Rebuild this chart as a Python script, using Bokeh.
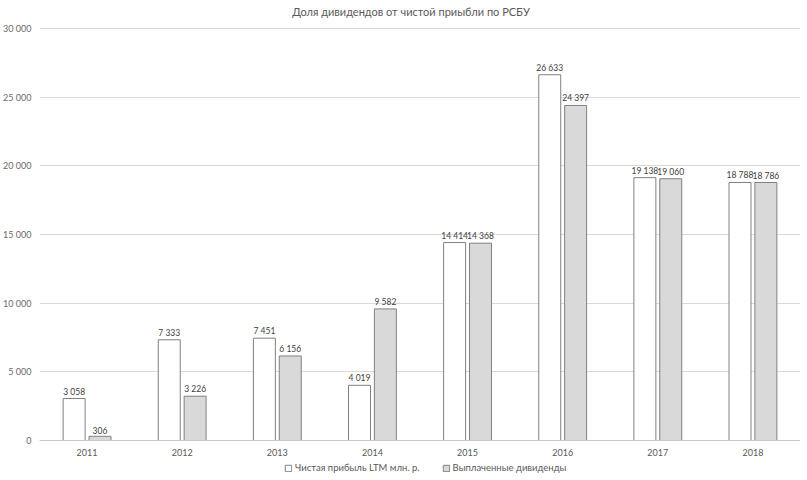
from bokeh.plotting import figure
from bokeh.models import (ColumnDataSource, Range1d, LabelSet, Label, Legend, LegendItem,
                          FixedTicker, Span)
from bokeh.core.properties import value
from bokeh.embed import file_html
from bokeh.resources import INLINE

title = "Доля дивидендов от чистой приыбли по РСБУ"
years = ["2011", "2012", "2013", "2014", "2015", "2016", "2017", "2018"]
net_profit = [3058, 7333, 7451, 4019, 14414, 26633, 19138, 18788]
dividends = [306, 3226, 6156, 9582, 14368, 24397, 19060, 18786]
y_ticks = [0, 5000, 10000, 15000, 20000, 25000, 30000]
legend_labels = ["Чистая прибыль LTM млн. р.", "Выплаченные дивиденды"]

def fmt(v):
    return f"{v:,}".replace(",", " ")

BW = 0.231
OFF = 0.136
centers = [i + 0.5 for i in range(len(years))]
src = ColumnDataSource(dict(
    xc=centers,
    x1=[c - OFF for c in centers],
    x2=[c + OFF for c in centers],
    year=years,
    zero=[0] * len(years),
    profit=net_profit,
    div=dividends,
    profit_lbl=[fmt(v) for v in net_profit],
    div_lbl=[fmt(v) for v in dividends],
))

FONT = value("Lato")
TXT = "#595959"

H = 478
TOP_PX = 28      # frame px above the 30000 line
BOT_PX = 38      # frame px below the 0 line
ymax = y_ticks[-1]
per_px = ymax / (H - TOP_PX - BOT_PX)

p = figure(x_range=Range1d(0, len(years)),
           y_range=Range1d(-BOT_PX * per_px, ymax + TOP_PX * per_px),
           width=800, height=H, output_backend="svg", toolbar_location=None,
           min_border_left=38, min_border_right=0, min_border_top=0, min_border_bottom=0)

r1 = p.vbar(x="x1", top="profit", width=BW, source=src,
            fill_color="white", line_color="#808080", line_width=1)
r2 = p.vbar(x="x2", top="div", width=BW, source=src,
            fill_color="#d9d9d9", line_color="#808080", line_width=1)

p.add_layout(LabelSet(x="x1", y="profit", text="profit_lbl", source=src, y_offset=2,
                      text_align="center", text_baseline="bottom", text_font_size="8.5px",
                      text_color="#404040", text_font=FONT))
p.add_layout(LabelSet(x="x2", y="div", text="div_lbl", source=src, y_offset=2,
                      text_align="center", text_baseline="bottom", text_font_size="8.5px",
                      text_color="#404040", text_font=FONT))
# category labels
p.add_layout(LabelSet(x="xc", y="zero", text="year", source=src, y_offset=-8,
                      text_align="center", text_baseline="top", text_font_size="9px",
                      text_color=TXT, text_font=FONT))

p.add_layout(Label(x=len(years) / 2, y=ymax + 17 * per_px, x_offset=-9, text=title,
                   text_align="center", text_baseline="middle", text_font_size="11px",
                   text_color=TXT, text_font="Lato"))

p.add_layout(Span(location=0, dimension="width", line_color="#c8c8c8", line_width=1))

p.outline_line_color = None
p.xaxis.visible = False
p.xgrid.grid_line_color = None
p.ygrid.grid_line_color = "#d9d9d9"
p.ygrid.ticker = FixedTicker(ticks=y_ticks)

p.yaxis.ticker = FixedTicker(ticks=y_ticks)
p.yaxis.major_label_overrides = {t: fmt(t) for t in y_ticks}
p.yaxis.axis_line_color = None
p.yaxis.major_tick_line_color = None
p.yaxis.minor_tick_line_color = None
p.yaxis.major_tick_out = 0
p.yaxis.major_tick_in = 0
p.yaxis.minor_tick_out = 0
p.yaxis.major_label_text_font = "Lato"
p.yaxis.major_label_text_font_size = "9px"
p.yaxis.major_label_text_color = "#6a6a6a"
p.yaxis.major_label_standoff = 8

legend = Legend(items=[LegendItem(label=legend_labels[0], renderers=[r1]),
                       LegendItem(label=legend_labels[1], renderers=[r2])],
                orientation="horizontal", location=(244, 4),
                border_line_alpha=0, background_fill_alpha=0,
                padding=1, margin=0, spacing=22,
                glyph_width=8, glyph_height=8,
                label_text_font="Lato", label_text_font_size="9.5px",
                label_text_color=TXT, label_standoff=3, label_height=10)
p.add_layout(legend, "center")

open("out.html", "w").write(file_html(p, INLINE))
